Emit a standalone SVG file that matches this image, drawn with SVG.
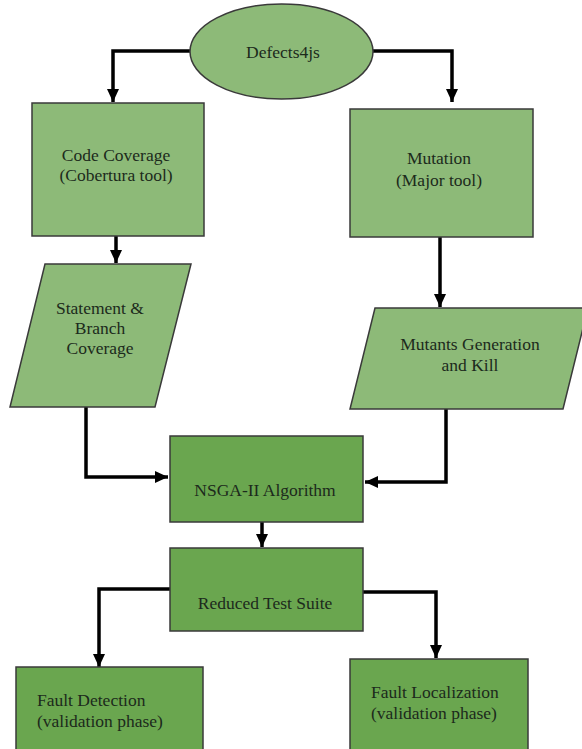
<svg xmlns="http://www.w3.org/2000/svg" width="582" height="749" viewBox="0 0 582 749">
<style>
.light{fill:#8dba78;stroke:#3a3a3a;stroke-width:1.5}
.dark{fill:#6aa64f;stroke:#3a3a3a;stroke-width:1.5}
.t{font-family:"Liberation Serif","Times New Roman",serif;font-size:17.5px;fill:#1c2a1c}
.c{text-anchor:middle}
.conn{fill:none;stroke:#000;stroke-width:3.5}
</style>
<defs>
<marker id="ah" markerUnits="userSpaceOnUse" markerWidth="14" markerHeight="14" viewBox="0 0 14 14" refX="13" refY="7" orient="auto">
<path d="M0,1 L13,7 L0,13 Z" fill="#000"/>
</marker>
</defs>
<rect width="582" height="749" fill="#fff"/>
<g id="connectors">
<polyline class="conn" points="190,51 113,51 113,102" marker-end="url(#ah)"/>
<polyline class="conn" points="373,51 452,51 452,102" marker-end="url(#ah)"/>
<polyline class="conn" points="116,236 116,263" marker-end="url(#ah)"/>
<polyline class="conn" points="440,237 440,307" marker-end="url(#ah)"/>
<polyline class="conn" points="86,407 86,477 168,477" marker-end="url(#ah)"/>
<polyline class="conn" points="446,409 446,482 365,482" marker-end="url(#ah)"/>
<polyline class="conn" points="262,522 262,547" marker-end="url(#ah)"/>
<polyline class="conn" points="170,589 99,589 99,667" marker-end="url(#ah)"/>
<polyline class="conn" points="363,592 436,592 436,658" marker-end="url(#ah)"/>
</g>
<g id="defects4js">
<ellipse class="light" cx="281.5" cy="51.5" rx="91.5" ry="47.5"/>
<text class="t c" x="283" y="58">Defects4js</text>
</g>
<g id="code-coverage">
<rect class="light" x="32" y="103" width="172" height="133"/>
<text class="t c" x="116" y="161">Code Coverage</text>
<text class="t c" x="116" y="181">(Cobertura tool)</text>
</g>
<g id="mutation">
<rect class="light" x="350" y="109" width="183" height="128"/>
<text class="t c" x="439" y="164">Mutation</text>
<text class="t c" x="439" y="186">(Major tool)</text>
</g>
<g id="statement-branch">
<polygon class="light" points="45,264 191,264 155,407 10,407"/>
<text class="t c" x="100" y="314">Statement &amp;</text>
<text class="t c" x="100" y="334">Branch</text>
<text class="t c" x="100" y="354">Coverage</text>
</g>
<g id="mutants">
<polygon class="light" points="375,308 588,308 563,409 350,409"/>
<text class="t c" x="470" y="350">Mutants Generation</text>
<text class="t c" x="470" y="371">and Kill</text>
</g>
<g id="nsga">
<rect class="dark" x="170" y="436" width="193" height="86"/>
<text class="t c" x="265" y="496">NSGA-II Algorithm</text>
</g>
<g id="reduced">
<rect class="dark" x="170" y="548" width="193" height="83"/>
<text class="t c" x="265" y="609">Reduced Test Suite</text>
</g>
<g id="fault-detection">
<rect class="dark" x="16" y="667" width="187" height="90"/>
<text class="t" x="37" y="706">Fault Detection</text>
<text class="t" x="37" y="727">(validation phase)</text>
</g>
<g id="fault-localization">
<rect class="dark" x="350" y="659" width="178" height="98"/>
<text class="t" x="371" y="698">Fault Localization</text>
<text class="t" x="371" y="719">(validation phase)</text>
</g>
</svg>
